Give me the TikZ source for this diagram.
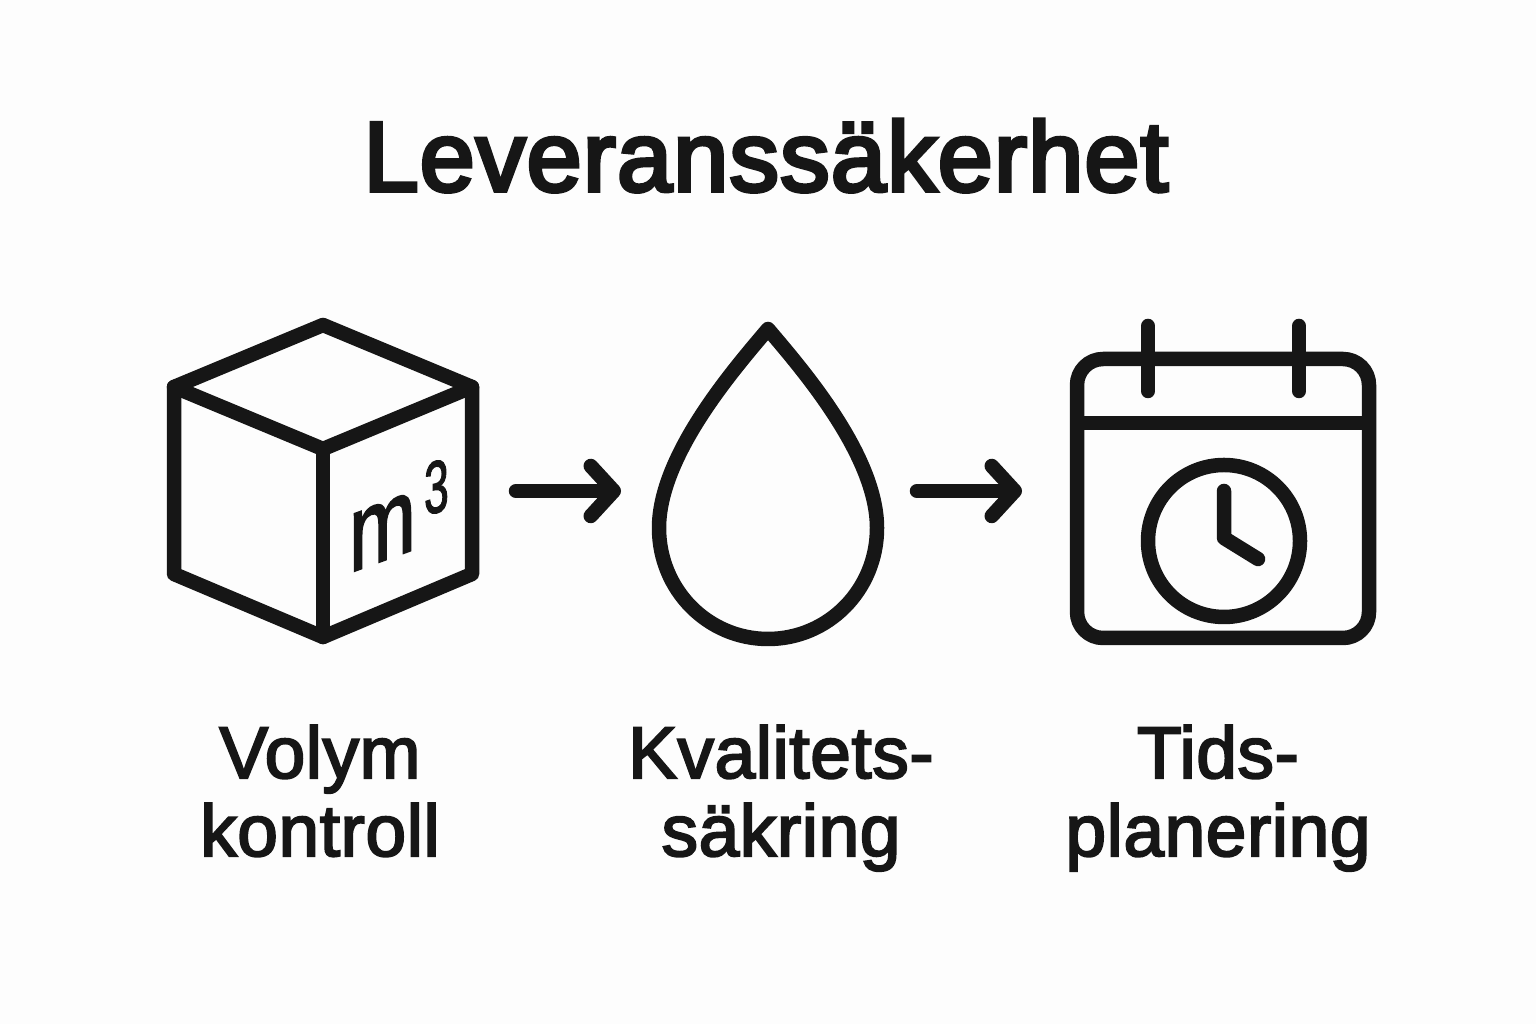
\documentclass[tikz,border=0pt]{standalone}
\usepackage{fontspec}
\setmainfont{Liberation Sans}
\newfontfamily\labelfont[FakeBold=2.8,LetterSpace=0.8]{Liberation Sans}
\newfontfamily\titlefont[FakeBold=4,LetterSpace=1.2]{Liberation Sans}
\newfontfamily\facefont[FakeBold=2]{Liberation Sans}
\usetikzlibrary{arrows.meta}
\definecolor{inkBlack}{RGB}{22,22,22}
\definecolor{paperWhite}{RGB}{253,253,253}
\tikzset{
    % Style for the icon outlines
    icon line/.style={
        draw=inkBlack,
        line width=14.5pt,
        line join=round,
        line cap=round
    },
    % Style for the arrows between the icons
    flow arrow/.style={
        icon line,
        -{Straight Barb[length=23pt,width=50pt,round]}
    },
    % Style for the captions
    caption label/.style={
        font=\labelfont\fontsize{73}{78}\selectfont,
        text=inkBlack,
        align=center,
        anchor=base,
        inner sep=0pt
    },
    title label/.style={
        font=\titlefont\fontsize{99}{110}\selectfont,
        text=inkBlack,
        anchor=base,
        inner sep=0pt
    },
    face label/.style={
        font=\facefont,
        text=inkBlack,
        anchor=base west,
        inner sep=0pt,
        transform shape
    }
}

\begin{document}
\begin{tikzpicture}[x=1pt,y=1pt]

% Set the canvas size
\fill[paperWhite] (0,0) rectangle (1536,1024);
\path[use as bounding box] (0,0) rectangle (1536,1024);

\node[title label] (title) at (766,833) {Leveranssäkerhet};

% Cube
\draw[icon line] (323,699) -- (472,637) -- (472,450) -- (323,387) -- (174,450) -- (174,637) -- cycle;
\draw[icon line] (174,637) -- (323,575) -- (472,637);
\draw[icon line] (323,575) -- (323,387);

\begin{scope}[cm={0.74,0.27,0,1,(349,451)}]
    \node[face label] (unit) at (0,0) {\fontsize{108}{108}\selectfont m};
\end{scope}
\begin{scope}[cm={0.6,0.12,0,1,(424,509)}]
    \node[face label] (power) at (0,0) {\fontsize{74}{74}\selectfont 3};
\end{scope}

% Drop
\draw[icon line] (768,695) .. controls (735,656) and (659,569) .. (659,496)
    .. controls (659,434) and (708,385) .. (768,385)
    .. controls (828,385) and (877,434) .. (877,496)
    .. controls (877,569) and (801,656) .. (768,695) -- cycle;

% Calendar
\draw[icon line, rounded corners=26pt] (1077,386) rectangle (1369,665);
\draw[icon line, line cap=butt] (1077,601) -- (1369,601);
\draw[icon line] (1148,698) -- (1148,633);
\draw[icon line] (1299,698) -- (1299,633);

% Clock
\draw[icon line] (1224,483) circle (76);
\draw[icon line] (1224,533) -- (1224,486) -- (1258,465);

% Arrows
\coordinate (first from) at (516,533);
\coordinate (first to) at (621,533);
\coordinate (second from) at (917,533);
\coordinate (second to) at (1022,533);
\draw[flow arrow] (first from) -- (first to);
\draw[flow arrow] (second from) -- (second to);

% Captions
\node[caption label] (volume) at (320,168) {Volym\\kontroll};
\node[caption label] (quality) at (781,168) {Kvalitets-\\säkring};
\node[caption label] (schedule) at (1218,168) {Tids-\\planering};

\end{tikzpicture}
\end{document}
